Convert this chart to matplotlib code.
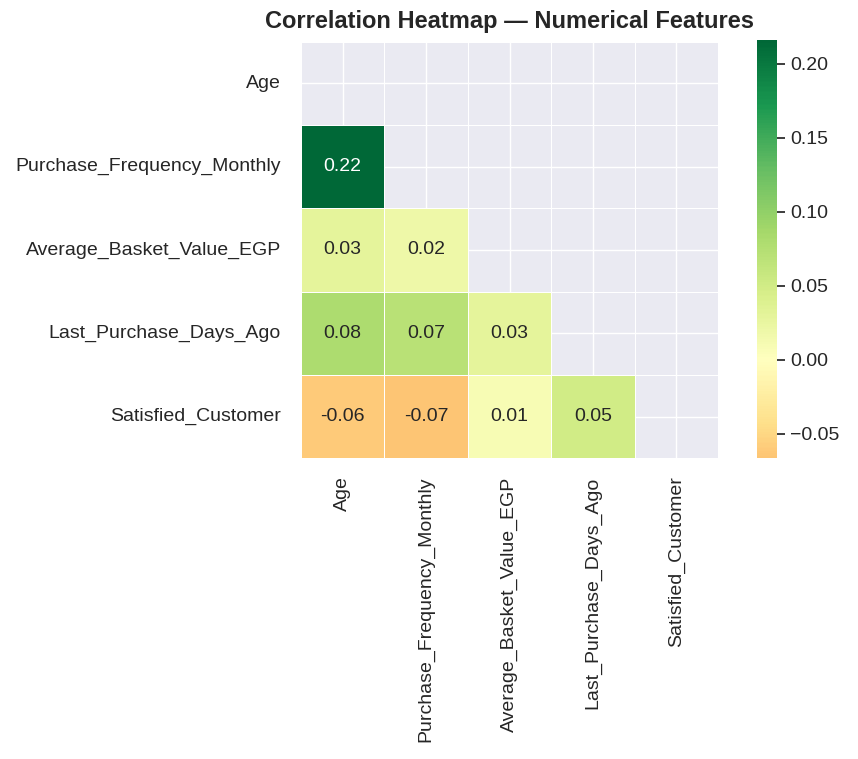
import numpy as np
import pandas as pd
import matplotlib
matplotlib.use("Agg")
import matplotlib.pyplot as plt
import seaborn as sns

features = ["Age", "Purchase_Frequency_Monthly", "Average_Basket_Value_EGP",
            "Last_Purchase_Days_Ago", "Satisfied_Customer"]

# lower-triangle correlations (row vs earlier columns)
r_purchase = [0.216]
r_basket = [0.03, 0.02]
r_last = [0.08, 0.07, 0.03]
r_satisfied = [-0.06, -0.0665, 0.01, 0.05]

lower_rows = [[], r_purchase, r_basket, r_last, r_satisfied]
n = len(features)
corr = np.eye(n)
for i, row in enumerate(lower_rows):
    for j, v in enumerate(row):
        corr[i, j] = v
        corr[j, i] = v
corr = pd.DataFrame(corr, index=features, columns=features)

sns.set_theme(style="darkgrid")
plt.rcParams["font.family"] = ["Liberation Sans", "DejaVu Sans"]

fig = plt.figure(figsize=(8.58, 7.59), dpi=100)
ax = fig.add_axes([301 / 858, 1 - 459 / 759, 417 / 858, 418 / 759])
cax = fig.add_axes([757 / 858, 1 - 458 / 759, 20 / 858, 418 / 759])

mask = np.triu(np.ones_like(corr, dtype=bool))
sns.heatmap(corr, mask=mask, annot=True, fmt=".2f", cmap="RdYlGn", center=0,
            linewidths=0.5, square=True, ax=ax, cbar_ax=cax,
            annot_kws={"size": 14})

ax.set_title("Correlation Heatmap — Numerical Features", fontsize=17,
             fontweight="bold", pad=10)
ax.tick_params(axis="y", labelsize=14, pad=8.5)
ax.tick_params(axis="x", labelsize=14, pad=7)
cax.tick_params(labelsize=14)

fig.savefig("out.png", dpi=100)
